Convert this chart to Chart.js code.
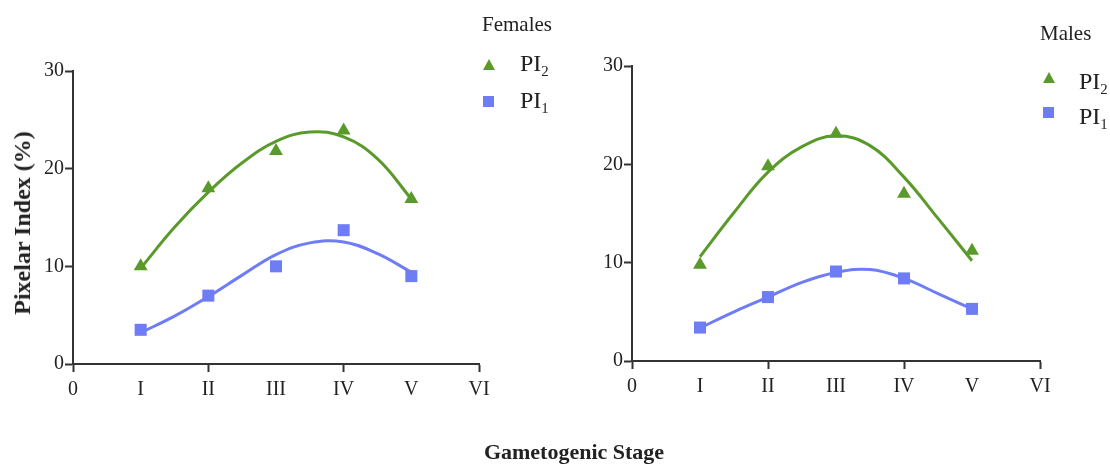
<!DOCTYPE html>
<html><head><meta charset="utf-8">
<script src="https://cdn.jsdelivr.net/npm/chart.js@4/dist/chart.umd.min.js"></script>
<style>
html,body{margin:0;padding:0;background:#fff;}
#wrap{position:relative;width:1110px;height:465px;overflow:hidden;font-family:"Liberation Serif","Times New Roman",serif;color:#222;}
canvas{position:absolute;top:0;}
.t{position:absolute;white-space:nowrap;line-height:1;}
.tri{position:absolute;width:0;height:0;border-left:6px solid transparent;border-right:6px solid transparent;border-bottom:11px solid #5a9a2a;}
.sq{position:absolute;width:11px;height:11px;background:#6e7cf6;}
sub{font-size:62%;vertical-align:-0.35em;}
</style></head>
<body><div id="wrap">
<canvas id="cF" width="560" height="465" style="left:0;width:560px;height:465px"></canvas>
<canvas id="cM" width="550" height="465" style="left:560px;width:550px;height:465px"></canvas>
<div class="t" style="left:22px;top:223px;font-size:24px;font-weight:bold;transform:translate(-50%,-50%) rotate(-90deg);">Pixelar Index (%)</div>
<div class="t" style="left:574px;top:452px;font-size:22px;font-weight:bold;transform:translate(-50%,-50%);">Gametogenic Stage</div>
<div class="t" style="left:482px;top:14px;font-size:21px;">Females</div>
<div class="tri" style="left:483px;top:59px;"></div>
<div class="t" style="left:520px;top:51px;font-size:24px;">PI<sub>2</sub></div>
<div class="sq" style="left:483px;top:96px;"></div>
<div class="t" style="left:520px;top:88px;font-size:24px;">PI<sub>1</sub></div>
<div class="t" style="left:1040px;top:23px;font-size:21px;">Males</div>
<div class="tri" style="left:1043px;top:72px;"></div>
<div class="t" style="left:1079px;top:69px;font-size:24px;">PI<sub>2</sub></div>
<div class="sq" style="left:1043px;top:107px;"></div>
<div class="t" style="left:1079px;top:104px;font-size:24px;">PI<sub>1</sub></div>
</div>
<script>
// ---- data ----
const stageLabels = ['0','I','II','III','IV','V','VI'];
const stages = [1, 2, 3, 4, 5];
const femalePI2 = [10.0, 18.0, 21.8, 23.9, 16.9];
const femalePI1 = [3.5, 7.0, 10.0, 13.7, 9.0];
const malePI2 = [9.8, 19.8, 23.1, 17.0, 11.2];
const malePI1 = [3.4, 6.5, 9.1, 8.4, 5.3];
// fitted curves at half-stage steps
const curveStages = [1, 1.5, 2, 2.5, 3, 3.5, 4, 4.5, 5];
const femalePI2Fit = [9.8, 14.0, 17.6, 20.6, 22.8, 23.75, 23.25, 21.0, 16.9];
const femalePI1Fit = [3.2, 4.9, 6.9, 9.1, 11.2, 12.4, 12.5, 11.3, 9.4];
const malePI2Fit = [10.6, 15.1, 19.2, 21.8, 22.9, 21.9, 18.7, 14.5, 10.2];
const malePI1Fit = [3.36, 5.0, 6.5, 8.0, 9.0, 9.3, 8.4, 6.85, 5.3];
const yTicks = [0, 10, 20, 30];

const GREEN = '#5a9a2a', BLUE = '#6e7cf6', AXIS = '#333';
const xy = (xs, ys) => xs.map((x, i) => ({x, y: ys[i]}));

function makeChart(id, pi2, pi1, pi2Fit, pi1Fit, pad) {
  return new Chart(document.getElementById(id), {
    type: 'scatter',
    data: {
      datasets: [
        {data: xy(curveStages, pi2Fit), showLine: true, borderColor: GREEN, borderWidth: 3, tension: 0.4, pointRadius: 0, fill: false},
        {data: xy(curveStages, pi1Fit), showLine: true, borderColor: BLUE, borderWidth: 3, tension: 0.4, pointRadius: 0, fill: false},
        {data: xy(stages, pi2), pointStyle: 'triangle', pointRadius: 8, backgroundColor: GREEN, borderColor: GREEN, borderWidth: 0},
        {data: xy(stages, pi1), pointStyle: 'rect', pointRadius: 8.5, backgroundColor: BLUE, borderColor: BLUE, borderWidth: 0}
      ]
    },
    options: {
      responsive: false, animation: false, devicePixelRatio: 1,
      layout: {padding: pad},
      plugins: {legend: {display: false}, tooltip: {enabled: false}},
      scales: {
        x: {
          type: 'linear', min: 0, max: 6,
          afterFit: s => { s.height = 50; },
          afterBuildTicks: s => { s.ticks = stageLabels.map((_, i) => ({value: i})); },
          ticks: {stepSize: 1, padding: 6, color: '#222', font: {family: 'Liberation Serif', size: 20},
                  callback: v => stageLabels[v]},
          grid: {drawOnChartArea: false, tickLength: 8, tickWidth: 2,
                 tickColor: c => (c.tick && c.tick.value % 2 === 0) ? AXIS : 'rgba(0,0,0,0)'},
          border: {display: true, color: AXIS, width: 2}
        },
        y: {
          min: 0, max: 30,
          afterFit: s => { s.width = 50; },
          afterBuildTicks: s => { s.ticks = yTicks.map(v => ({value: v})); },
          ticks: {padding: 1, color: '#222', font: {family: 'Liberation Serif', size: 20}},
          grid: {drawOnChartArea: false, tickLength: 8, tickWidth: 2, tickColor: AXIS},
          border: {display: true, color: AXIS, width: 2}
        }
      }
    }
  });
}
makeChart('cF', femalePI2, femalePI1, femalePI2Fit, femalePI1Fit, {left: 23, right: 81, top: 71, bottom: 51});
makeChart('cM', malePI2, malePI1, malePI2Fit, malePI1Fit, {left: 22, right: 70, top: 66, bottom: 54});
</script>
</body></html>
